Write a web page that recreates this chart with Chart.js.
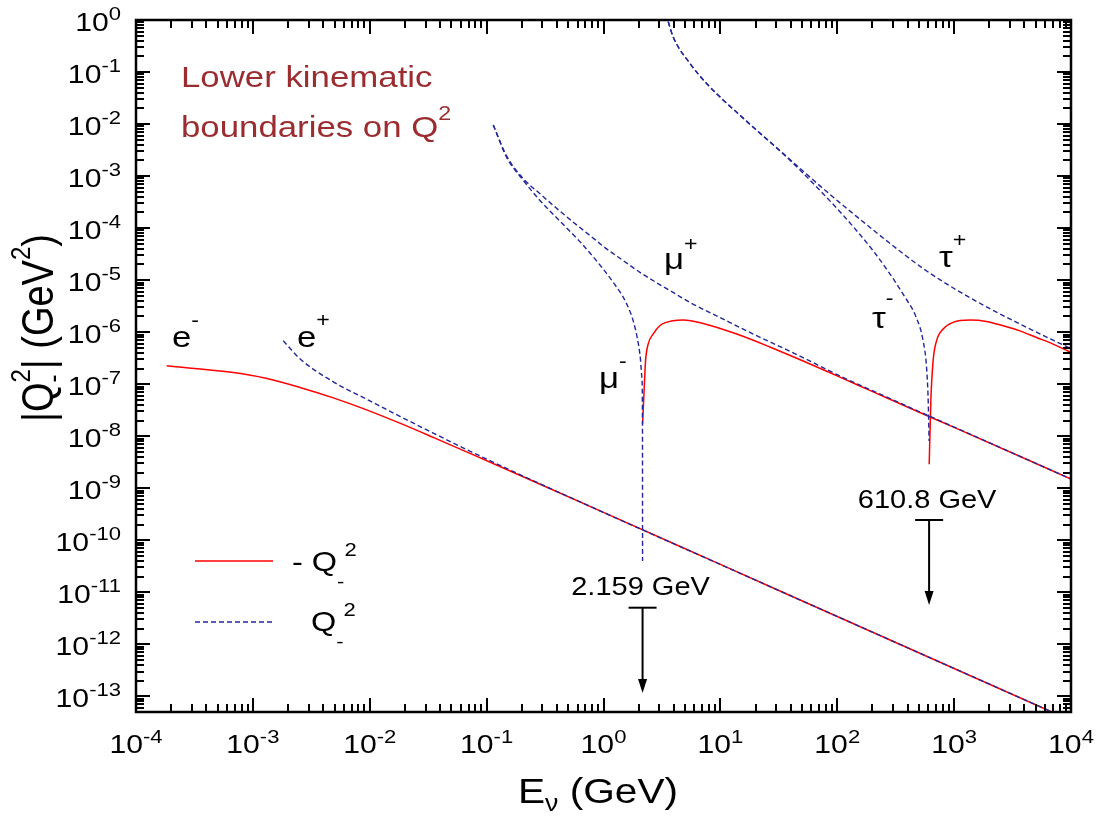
<!DOCTYPE html>
<html>
<head>
<meta charset="utf-8">
<script src="https://cdn.jsdelivr.net/npm/chart.js@4.4.1/dist/chart.umd.min.js"></script>
<style>
  html, body { margin: 0; padding: 0; background: #fff; }
  canvas { display: block; }
</style>
</head>
<body>
<canvas id="chart" width="1098" height="818"></canvas>
<script>
// --- DATA (E in GeV, |Q-^2| in GeV^2) ---
const eMinusE = [1.83e-4, 6.8e-4, 1.29e-3, 2.53e-3, 4.88e-3, 9.4e-3, 0.0181, 0.0349, 0.0674, 0.13, 0.3, 1, 10, 100, 1000, 6860];
const eMinusQ = [2.25e-7, 1.67e-7, 1.30e-7, 8.67e-8, 5.46e-8, 3.21e-8, 1.78e-8, 9.5e-9, 5.0e-9, 2.62e-9, 1.14e-9, 3.43e-10, 3.43e-11, 3.43e-12, 3.43e-13, 5.0e-14];

const ePlusE = [1.82e-3, 2.53e-3, 4.88e-3, 9.4e-3, 0.0181, 0.0349, 0.0674, 0.13, 0.3, 1, 10, 100, 1000, 6860];
const ePlusQ = [6.83e-7, 3.07e-7, 1.11e-7, 5.15e-8, 2.41e-8, 1.15e-8, 5.55e-9, 2.75e-9, 1.16e-9, 3.43e-10, 3.43e-11, 3.43e-12, 3.43e-13, 5.0e-14];

const muMinusE = [0.114, 0.148, 0.206, 0.286, 0.424, 0.628, 0.873, 1.21, 1.58, 1.86, 2.05, 2.13, 2.155, 2.159];
const muMinusQ = [9.6e-3, 2.32e-3, 8.26e-4, 3.40e-4, 1.36e-4, 5.5e-5, 2.34e-5, 9.08e-6, 3.48e-6, 1.23e-6, 3.78e-7, 1.34e-7, 1.96e-8, 4.0e-11];

const muPlusE = [0.114, 0.148, 0.206, 0.286, 0.397, 0.551, 0.766, 1.063, 1.475, 2.05, 2.85, 3.94, 5.48, 9.9, 19.1, 36.8, 54.6, 100, 200, 500, 1000, 10000];
const muPlusQ = [9.6e-3, 2.45e-3, 8.9e-4, 4.58e-4, 2.4e-4, 1.30e-4, 7.2e-5, 3.99e-5, 2.38e-5, 1.41e-5, 8.9e-6, 5.8e-6, 3.73e-6, 1.92e-6, 9.2e-7, 4.6e-7, 3.0e-7, 1.52e-7, 7.5e-8, 2.98e-8, 1.5e-8, 1.5e-9];

const muRedE = [2.16, 2.23, 2.29, 2.41, 2.66, 3.03, 3.94, 4.81, 7.13, 13.8, 26.5, 51.1, 98.6, 190, 509, 1000, 10000];
const muRedQ = [1.7e-8, 8.6e-8, 2.81e-7, 5.9e-7, 9.2e-7, 1.33e-6, 1.66e-6, 1.71e-6, 1.47e-6, 9.2e-7, 5.2e-7, 2.79e-7, 1.46e-7, 7.6e-8, 2.85e-8, 1.48e-8, 1.5e-9];

const tauMinusE = [3.58, 3.94, 5.48, 7.62, 10.6, 14.7, 20.4, 28.3, 39.4, 51.2, 75.7, 105, 146, 203, 282, 366, 477, 543, 581, 600, 610.8];
const tauMinusQ = [0.927, 0.477, 0.147, 0.0603, 0.0288, 0.0148, 7.6e-3, 4.0e-3, 2.01e-3, 1.13e-3, 4.58e-4, 2.09e-4, 9.0e-5, 3.65e-5, 1.32e-5, 5.36e-6, 1.86e-6, 6.8e-7, 2.09e-7, 4.8e-8, 8.1e-9];

const tauPlusE = [3.58, 3.94, 5.48, 7.62, 10.6, 14.7, 20.4, 28.3, 39.4, 51.2, 75.7, 105, 146, 203, 282, 392, 543, 755, 1000, 1890, 3650, 7030, 10000];
const tauPlusQ = [0.927, 0.477, 0.147, 0.0603, 0.0288, 0.0148, 7.6e-3, 4.0e-3, 2.09e-3, 1.24e-3, 5.75e-4, 3.09e-4, 1.68e-4, 9.2e-5, 5.1e-5, 2.87e-5, 1.67e-5, 1.02e-5, 6.9e-6, 3.07e-6, 1.44e-6, 7.0e-7, 4.83e-7];

const tauRedE = [612, 632, 661, 707, 805, 981, 1363, 1892, 2627, 3650, 5070, 7030, 10000];
const tauRedQ = [2.9e-9, 4.8e-8, 2.81e-7, 6.8e-7, 1.15e-6, 1.54e-6, 1.71e-6, 1.61e-6, 1.33e-6, 1.06e-6, 7.9e-7, 5.9e-7, 4.06e-7];

// threshold arrows
const thresholdE = [2.159, 610.8];
const thresholdLabel = ['2.159 GeV', '610.8 GeV'];

// axis decades
const xDecades = [-4, -3, -2, -1, 0, 1, 2, 3, 4];
const yDecades = [-13, -12, -11, -10, -9, -8, -7, -6, -5, -4, -3, -2, -1, 0];

// --- STYLE ---
const RED = '#ff0000';
const BLUE = '#23279a';
const TITLE_RED = '#9b2d31';
const FONT = '"Liberation Sans", Arial, sans-serif';
const SX = 1.16; // the original lettering is a bit wide

const pts = (xs, ys) => xs.map((x, i) => ({ x: x, y: ys[i] }));

function solid(data) {
  return { data: data, borderColor: RED, borderWidth: 1.5, order: 1 };
}
function dashed(data) {
  return { data: data, borderColor: BLUE, borderWidth: 1.4, borderDash: [5, 3], order: 0 };
}

// draw a run of text pieces [text, size, dy, stack]; a piece with stack=true
// does not move the pen (next piece is drawn at the same x)
function rich(ctx, parts, x, y, align, rotate) {
  let w = 0, hold = 0;
  parts.forEach(p => {
    ctx.font = p[1] + 'px ' + FONT;
    const pw = ctx.measureText(p[0]).width;
    if (p[3]) { hold = pw; } else { w += Math.max(pw, hold); hold = 0; }
  });
  ctx.save();
  ctx.translate(x, y);
  ctx.scale(SX, 1);
  if (rotate) ctx.rotate(-Math.PI / 2);
  ctx.textAlign = 'left';
  ctx.textBaseline = 'alphabetic';
  let cx = align === 'center' ? -w / 2 : align === 'right' ? -w : 0;
  hold = 0;
  parts.forEach(p => {
    ctx.font = p[1] + 'px ' + FONT;
    ctx.fillText(p[0], cx, p[2] || 0);
    const pw = ctx.measureText(p[0]).width;
    if (p[3]) { hold = pw; } else { cx += Math.max(pw, hold); hold = 0; }
  });
  ctx.restore();
}

function seg(ctx, x1, y1, x2, y2) {
  ctx.beginPath(); ctx.moveTo(x1, y1); ctx.lineTo(x2, y2); ctx.stroke();
}

const decorations = {
  id: 'decorations',
  afterDraw(chart) {
    const { ctx, chartArea: a, scales: { x, y } } = chart;
    ctx.save();
    ctx.strokeStyle = '#000';
    ctx.fillStyle = '#000';
    ctx.lineCap = 'butt';

    // ticks, all four sides, pointing inward
    ctx.lineWidth = 2;
    for (let d = -4; d < 4; d++) {
      for (let m = 1; m <= 9; m++) {
        const px = Math.round(x.getPixelForValue(m * Math.pow(10, d)));
        const len = m === 1 ? 14 : 8;
        seg(ctx, px, a.bottom, px, a.bottom - len);
        seg(ctx, px, a.top, px, a.top + len);
      }
    }
    for (let d = -14; d <= 0; d++) {
      for (let m = 1; m <= 9; m++) {
        const v = m * Math.pow(10, d);
        if (v < 4.99e-14 || v > 1.0001) continue;
        const py = Math.round(y.getPixelForValue(v));
        const len = m === 1 ? 14 : 8;
        seg(ctx, a.left, py, a.left + len, py);
        seg(ctx, a.right, py, a.right - len, py);
      }
    }
    // frame
    ctx.lineWidth = 2.5;
    ctx.strokeRect(a.left, a.top, a.right - a.left, a.bottom - a.top);

    // tick labels
    xDecades.forEach(d => {
      rich(ctx, [['10', 26, 0], [String(d), 19, -10.5]], x.getPixelForValue(Math.pow(10, d)), 753, 'center');
    });
    yDecades.forEach(d => {
      rich(ctx, [['10', 26, 0], [String(d), 19, -10.5]], 121, y.getPixelForValue(Math.pow(10, d)) + 10.5, 'right');
    });

    // axis titles
    rich(ctx, [['E', 35, 0], ['\u03bd', 23, 8], [' (GeV)', 35, 0]], 598, 803, 'center');
    rich(ctx, [['|Q', 38, 0], ['-', 24, 8, true], ['2', 24, -20], ['| (GeV', 38, 0], ['2', 24, -20], [')', 38, 0]], 53, 328, 'center', true);

    // inset title
    ctx.fillStyle = TITLE_RED;
    rich(ctx, [['Lower kinematic', 30, 0]], 181, 87, 'left');
    rich(ctx, [['boundaries on Q', 30, 0], ['2', 20, -17]], 181, 137, 'left');
    ctx.fillStyle = '#000';

    // curve labels
    rich(ctx, [['e', 30, 0], ['-', 20, -20]], 172, 347, 'left');
    rich(ctx, [['e', 30, 0], ['+', 20, -20]], 297, 347, 'left');
    rich(ctx, [['\u03bc', 30, 0], ['+', 20, -18]], 664, 269, 'left');
    rich(ctx, [['\u03bc', 30, 0], ['-', 20, -20]], 599, 388, 'left');
    rich(ctx, [['\u03c4', 30, 0], ['-', 20, -23]], 872, 328, 'left');
    rich(ctx, [['\u03c4', 30, 0], ['+', 20, -20]], 939, 267, 'left');

    // threshold arrows
    const arrowBar = [607.7, 520];
    const arrowTip = [693, 605];
    const labelBase = [595, 508];
    ctx.lineWidth = 2;
    thresholdE.forEach((e, i) => {
      const px = x.getPixelForValue(e);
      seg(ctx, px - 14, arrowBar[i], px + 14, arrowBar[i]);
      seg(ctx, px, arrowBar[i], px, arrowTip[i] - 6);
      ctx.beginPath();
      ctx.moveTo(px, arrowTip[i]);
      ctx.lineTo(px - 4.5, arrowTip[i] - 14);
      ctx.lineTo(px + 4.5, arrowTip[i] - 14);
      ctx.closePath();
      ctx.fill();
      rich(ctx, [[thresholdLabel[i], 25, 0]], px - 2, labelBase[i], 'center');
    });

    // legend
    const ds = chart.data.datasets;
    const red = ds.find(s => s.borderColor === RED);
    const blue = ds.find(s => s.borderColor === BLUE);
    ctx.lineWidth = red.borderWidth;
    ctx.strokeStyle = red.borderColor;
    seg(ctx, 195, 561, 273, 561);
    ctx.lineWidth = blue.borderWidth;
    ctx.strokeStyle = blue.borderColor;
    ctx.setLineDash(blue.borderDash);
    seg(ctx, 195, 622, 273, 622);
    ctx.setLineDash([]);
    rich(ctx, [['- Q', 28, 0], ['-', 19, 17], ['2', 19, -15]], 292, 571, 'left');
    rich(ctx, [['Q', 28, 0], ['-', 19, 17], ['2', 19, -15]], 311, 631, 'left');

    ctx.restore();
  }
};

new Chart(document.getElementById('chart'), {
  type: 'line',
  data: {
    datasets: [
      solid(pts(eMinusE, eMinusQ)),
      dashed(pts(ePlusE, ePlusQ)),
      dashed(pts(muMinusE, muMinusQ)),
      dashed(pts(muPlusE, muPlusQ)),
      solid(pts(muRedE, muRedQ)),
      dashed(pts(tauMinusE, tauMinusQ)),
      dashed(pts(tauPlusE, tauPlusQ)),
      solid(pts(tauRedE, tauRedQ))
    ]
  },
  options: {
    responsive: false,
    animation: false,
    devicePixelRatio: 1,
    layout: { padding: { left: 136, top: 20, right: 27, bottom: 106 } },
    elements: {
      point: { radius: 0, hoverRadius: 0 },
      line: { cubicInterpolationMode: 'monotone', fill: false }
    },
    plugins: { legend: { display: false }, tooltip: { enabled: false } },
    scales: {
      x: { type: 'logarithmic', min: 1e-4, max: 1e4, display: false },
      y: { type: 'logarithmic', min: 5e-14, max: 1, display: false }
    }
  },
  plugins: [decorations]
});
</script>
</body>
</html>
